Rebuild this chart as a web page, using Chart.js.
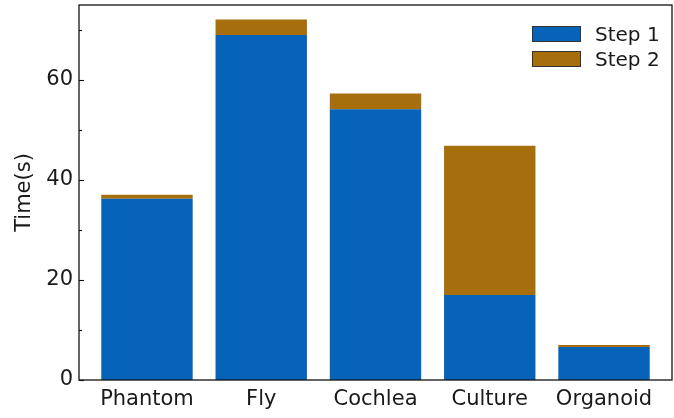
<!DOCTYPE html>
<html>
<head>
<meta charset="utf-8">
<script src="https://cdn.jsdelivr.net/npm/chart.js@4/dist/chart.umd.min.js"></script>
<style>
  html, body { margin: 0; padding: 0; background: #fff; }
  #wrap { position: relative; width: 674px; height: 418px; }
  #legend { position: absolute; left: 532px; top: 21px; font-family: 'DejaVu Sans', sans-serif; font-size: 20px; color: #1a1a1a; }
  #legend .row { display: flex; align-items: center; height: 25px; }
  #legend .box { width: 47px; height: 14px; border: 1px solid #333; margin-right: 14px; }
</style>
</head>
<body>
<div id="wrap">
  <canvas id="timeChart" width="674" height="418"></canvas>
  <div id="legend"></div>
</div>
<script>
var categories = ['Phantom', 'Fly', 'Cochlea', 'Culture', 'Organoid'];
var step1 = [36.2, 68.9, 54.1, 17.0, 6.6];
var step2 = [0.8, 3.1, 3.1, 29.8, 0.4];
var yMajor = [0, 20, 40, 60];
var yMinor = [10, 30, 50, 70];

var FONT = "'DejaVu Sans', sans-serif";

function points(values) {
    return values.map(function(v, i) { return {x: i, y: v}; });
}

// frame around the plot plus inward-facing y ticks
var framePlugin = {
    id: 'frame',
    afterDatasetsDraw: function(chart) {
        var ctx = chart.ctx;
        var a = chart.chartArea;
        var y = chart.scales.y;
        ctx.save();
        ctx.strokeStyle = '#111';
        ctx.lineWidth = 1.1;
        yMajor.forEach(function(v) {
            var py = Math.round(y.getPixelForValue(v)) + 0.5;
            ctx.beginPath(); ctx.moveTo(a.left, py); ctx.lineTo(a.left + 5, py); ctx.stroke();
        });
        yMinor.forEach(function(v) {
            var py = Math.round(y.getPixelForValue(v)) + 0.5;
            ctx.beginPath(); ctx.moveTo(a.left, py); ctx.lineTo(a.left + 3, py); ctx.stroke();
        });
        ctx.lineWidth = 1.3;
        ctx.strokeRect(a.left, a.top, a.right - a.left, a.bottom - a.top);
        ctx.restore();
    }
};

var chart = new Chart(document.getElementById('timeChart').getContext('2d'), {
    type: 'bar',
    data: {
        datasets: [{
            label: 'Step 1',
            data: points(step1),
            backgroundColor: '#0763b8',
            borderWidth: 0
        }, {
            label: 'Step 2',
            data: points(step2),
            backgroundColor: '#a76e0c',
            borderWidth: 0
        }]
    },
    options: {
        responsive: false,
        devicePixelRatio: 1,
        animation: false,
        layout: { padding: { top: 5, right: 2, left: 0, bottom: 0 } },
        datasets: { bar: { categoryPercentage: 1, barPercentage: 0.8 } },
        plugins: { legend: { display: false }, tooltip: { enabled: false } },
        scales: {
            x: {
                type: 'linear',
                stacked: true,
                offset: false,
                min: -0.595,
                max: 4.595,
                grid: { display: false, drawTicks: false },
                border: { display: false },
                afterBuildTicks: function(scale) {
                    scale.ticks = categories.map(function(c, i) { return {value: i}; });
                },
                afterFit: function(scale) {
                    scale.height = 38;
                    scale.paddingLeft = 0;
                    scale.paddingRight = 0;
                },
                ticks: {
                    padding: 7,
                    maxRotation: 0,
                    color: '#1a1a1a',
                    font: { family: FONT, size: 21 },
                    callback: function(v) { return categories[v]; }
                }
            },
            y: {
                stacked: true,
                min: 0,
                max: 74.9,
                grid: { display: false, drawTicks: false },
                border: { display: false },
                afterBuildTicks: function(scale) {
                    scale.ticks = yMajor.map(function(v) { return {value: v}; });
                },
                afterFit: function(scale) {
                    scale.width = 79;
                    scale.paddingTop = 0;
                    scale.paddingBottom = 0;
                },
                ticks: {
                    padding: 6,
                    color: '#1a1a1a',
                    font: { family: FONT, size: 21 }
                },
                title: {
                    display: true,
                    text: 'Time(s)',
                    color: '#1a1a1a',
                    font: { family: FONT, size: 21 },
                    padding: { top: 12, bottom: 0 }
                }
            }
        }
    },
    plugins: [framePlugin]
});

// legend built from the datasets
var legend = document.getElementById('legend');
chart.data.datasets.forEach(function(ds) {
    var row = document.createElement('div');
    row.className = 'row';
    row.innerHTML = '<span class="box" style="background:' + ds.backgroundColor + '"></span><span>' + ds.label + '</span>';
    legend.appendChild(row);
});
</script>
</body>
</html>
